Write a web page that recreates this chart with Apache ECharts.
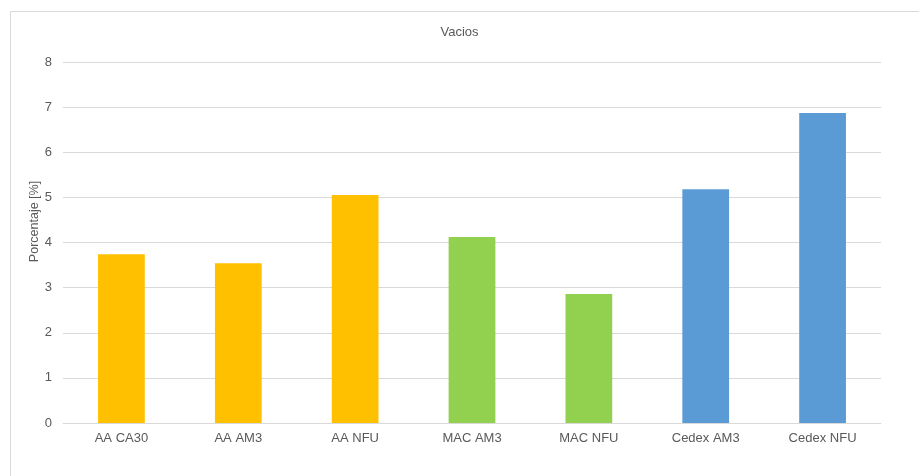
<!DOCTYPE html>
<html>
<head>
<meta charset="utf-8">
<script src="https://cdn.jsdelivr.net/npm/echarts@6/dist/echarts.min.js"></script>
<style>
  html, body { margin: 0; padding: 0; background: #fff; }
  #chart { width: 919px; height: 476px; }
</style>
</head>
<body>
<div id="chart"></div>
<script>
// Air-void content per mix
const categories = ['AA CA30', 'AA AM3', 'AA NFU', 'MAC AM3', 'MAC NFU', 'Cedex AM3', 'Cedex NFU'];
const voids = [3.74, 3.54, 5.05, 4.12, 2.86, 5.18, 6.87];
const groupColors = ['#FFC000', '#FFC000', '#FFC000', '#92D050', '#92D050', '#5B9BD5', '#5B9BD5'];
const yTicks = [0, 1, 2, 3, 4, 5, 6, 7, 8];

const chart = echarts.init(document.getElementById('chart'));
const font = 'Liberation Sans, Arial, sans-serif';

chart.setOption({
  animation: false,
  backgroundColor: '#ffffff',
  title: {
    text: 'Vacios',
    left: 'center',
    top: 21,
    textStyle: { color: '#595959', fontSize: 13, fontWeight: 'normal', fontFamily: font }
  },
  graphic: [{
    type: 'rect',
    shape: { x: 10.5, y: 11.5, width: 920, height: 480 },
    style: { fill: 'none', stroke: '#d9d9d9', lineWidth: 1 },
    silent: true
  }],
  grid: { left: 63, right: 38, top: 62, bottom: 53 },
  xAxis: {
    type: 'category',
    data: categories,
    axisLine: { lineStyle: { color: '#d9d9d9', width: 1 } },
    axisTick: { show: false },
    axisLabel: { color: '#595959', fontSize: 13, fontFamily: font, margin: 9 }
  },
  yAxis: {
    type: 'value',
    min: yTicks[0],
    max: yTicks[yTicks.length - 1],
    interval: 1,
    name: 'Porcentaje [%]',
    nameLocation: 'middle',
    nameGap: 22,
    nameMoveOverlap: false,
    nameTextStyle: { color: '#595959', fontSize: 12.5, fontFamily: font, padding: [0, 0, 0, 42] },
    axisLine: { show: false },
    axisTick: { show: false },
    axisLabel: { color: '#595959', fontSize: 13, fontFamily: font, margin: 11 },
    splitLine: { lineStyle: { color: '#d9d9d9', width: 1 } }
  },
  series: [{
    type: 'bar',
    barWidth: '40%',
    data: voids.map((v, i) => ({ value: v, itemStyle: { color: groupColors[i] } }))
  }]
});
</script>
</body>
</html>
